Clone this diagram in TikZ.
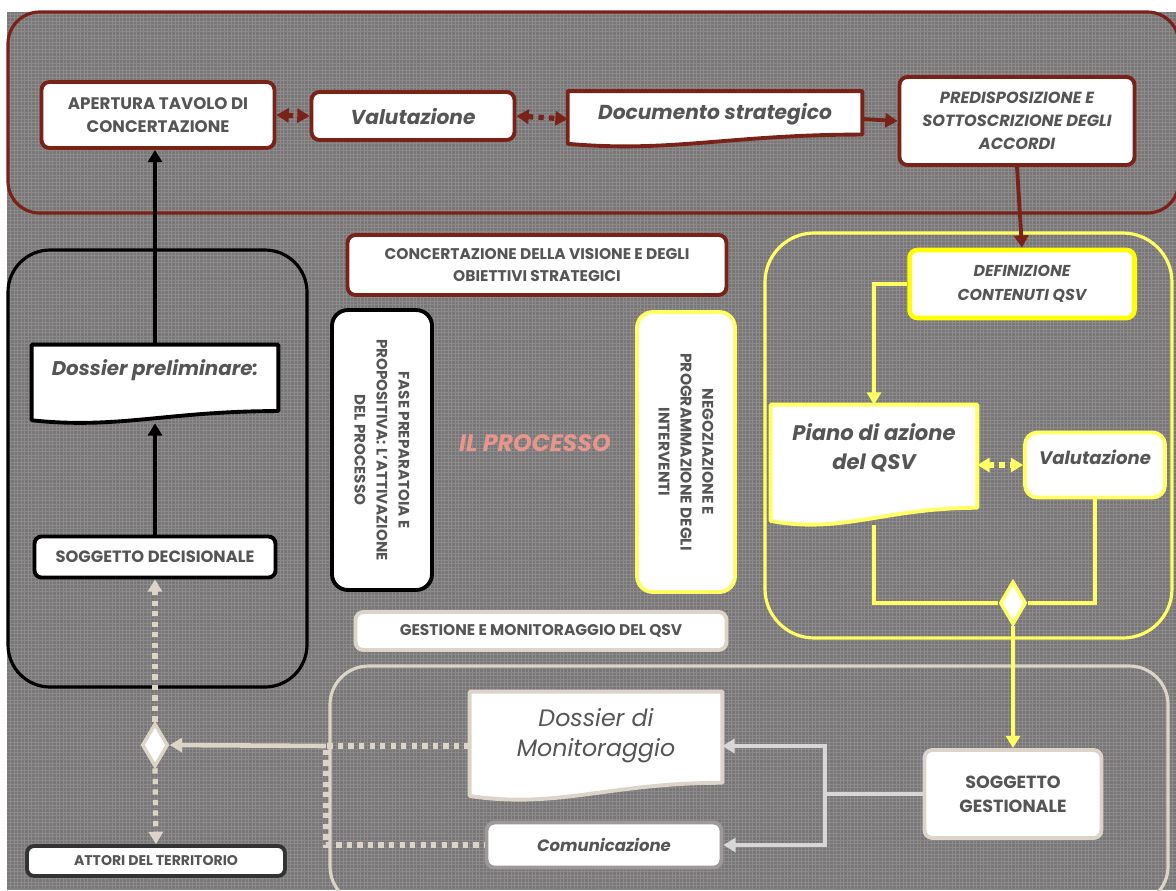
\documentclass[tikz,border=0pt]{standalone}
\usepackage{fontspec}
\setmainfont{Poppins}
\usetikzlibrary{arrows.meta,shapes.geometric,calc,backgrounds}
\definecolor{bg}{RGB}{120,118,118}
\definecolor{bgline}{RGB}{140,138,138}
\definecolor{maroon}{RGB}{122,34,24}
\definecolor{yel}{RGB}{255,255,100}
\definecolor{yelb}{RGB}{255,255,0}
\definecolor{beige}{RGB}{220,213,199}
\definecolor{lgrey}{RGB}{215,215,215}
\definecolor{cgrey}{RGB}{158,152,152}
\definecolor{salmon}{RGB}{232,150,140}
\definecolor{txt}{RGB}{85,85,85}
% document outline behind a node: node, colour, rise of the right end
\newcommand{\docoutline}[3]{%
  \begin{pgfonlayer}{background}
  \draw[line width=2.2pt, #2, fill=white, line join=round]
    (#1.north west) -- (#1.north east) -- ([yshift=#3]#1.south east)
    .. controls ($(#1.south west)!0.55!(#1.south east)+(0pt,#3)$)
    and ($(#1.south west)!0.35!(#1.south east)+(0pt,-0.5*#3)$)
    .. ([yshift=0.25*#3]#1.south west) -- cycle;
  \end{pgfonlayer}}
\begin{document}
\begin{tikzpicture}[x=0.02cm, y=-0.02cm, text=txt,
  box/.style={rectangle, rounded corners=4.5pt, fill=white, line width=2.2pt, align=center, inner sep=2pt},
  doc/.style={rectangle, align=center, inner sep=2pt},
  frame/.style={line width=1.8pt, rounded corners=#1},
  tip/.style={-{Triangle[length=7pt,width=8pt]}},
  tips/.style={{Triangle[length=7pt,width=8pt]}-{Triangle[length=7pt,width=8pt]}},
  mline/.style={maroon, line width=2.2pt, tip},
  mdot/.style={maroon, line width=3pt, dash pattern=on 3pt off 3pt, tips},
  kline/.style={black, line width=2pt, tip},
  yplain/.style={yel, line width=2.2pt},
  yline/.style={yplain, tip},
  ydot/.style={yel, line width=3pt, dash pattern=on 3pt off 3pt, tips},
  bplain/.style={beige, line width=2.6pt},
  bline/.style={bplain, tip},
  bdot/.style={beige, line width=3pt, dash pattern=on 3pt off 3pt},
  gplain/.style={lgrey, line width=2.6pt},
  gline/.style={gplain, tip},
  dmd/.style={diamond, fill=white, line width=2pt, inner sep=0pt, minimum width=0.52cm, minimum height=0.86cm}]
\useasboundingbox (0,0) rectangle (1176,890);
\begin{pgfonlayer}{background}
\fill[bg] (7,12) rectangle (1176,890);
\draw[bgline, line width=0.3pt, step=0.07cm] (7,12) grid (1176,890);
\end{pgfonlayer}

% frames
\draw[frame=18pt, maroon] (8,12) rectangle (1179,213);
\draw[frame=24pt, black] (8,250) rectangle (307,687);
\draw[frame=28pt, yel] (765,233) rectangle (1172,638);
\draw[frame=22pt, beige] (330,666) rectangle (1168,905);

% concertazione
\node[box, draw=maroon, minimum width=4.66cm, minimum height=1.32cm, font=\bfseries\fontsize{9.5}{13.5}\selectfont] (apertura) at (158,115) {APERTURA TAVOLO DI\\CONCERTAZIONE};
\node[box, draw=maroon, minimum width=4.06cm, minimum height=0.96cm, font=\bfseries\itshape\fontsize{11.5}{14}\selectfont] (valut1) at (413,116) {Valutazione};
\node[doc, minimum width=5.88cm, minimum height=1.1cm, text depth=0.3cm, font=\bfseries\itshape\fontsize{11.5}{14}\selectfont] (docstrat) at (715,119) {Documento strategico};
\docoutline{docstrat}{maroon}{7pt}
\node[box, draw=maroon, minimum width=4.7cm, minimum height=1.76cm, font=\bfseries\itshape\fontsize{9.2}{13}\selectfont] (predisp) at (1017,121) {PREDISPOSIZIONE E\\SOTTOSCRIZIONE DEGLI\\ACCORDI};
\node[box, draw=maroon, minimum width=7.58cm, minimum height=1.2cm, font=\bfseries\fontsize{8.8}{13}\selectfont] (concert) at (537,265) {CONCERTAZIONE DELLA VISIONE E DEGLI\\OBIETTIVI STRATEGICI};

% fasi
\node[box, draw=black, rotate=-90, rounded corners=9pt, minimum width=5.6cm, minimum height=2cm, font=\bfseries\fontsize{8.6}{12.5}\selectfont] (fase) at (382,450) {FASE PREPARATOIA E\\PROPOSITIVA: L'ATTIVAZIONE\\DEL PROCESSO};
\node[box, draw=yel, rotate=-90, rounded corners=9pt, minimum width=5.6cm, minimum height=1.96cm, font=\bfseries\fontsize{8.8}{12.5}\selectfont] (negoz) at (686,452) {NEGOZIAZIONE E\\PROGRAMMAZIONE DEGLI\\INTERVENTI};
\node[text=salmon, font=\bfseries\itshape\fontsize{13.5}{15}\selectfont] (ilproc) at (535,443) {IL PROCESSO};
\node[box, draw=beige, minimum width=7.42cm, minimum height=0.76cm, font=\bfseries\fontsize{8.8}{10}\selectfont] (gestione) at (541,631) {GESTIONE E MONITORAGGIO DEL QSV};

% qsv
\node[box, draw=yelb, line width=2.6pt, minimum width=4.5cm, minimum height=1.36cm, font=\bfseries\itshape\fontsize{9}{14}\selectfont] (defin) at (1022,284) {DEFINIZIONE\\CONTENUTI QSV};
\node[doc, minimum width=4.12cm, minimum height=2.4cm, text depth=0.75cm, font=\bfseries\itshape\fontsize{12}{16.5}\selectfont] (piano) at (874,465) {Piano di azione\\del QSV};
\docoutline{piano}{yel}{10pt}
\node[box, draw=yel, rounded corners=7pt, minimum width=2.8cm, minimum height=1.3cm, text depth=0.3cm, font=\bfseries\itshape\fontsize{10.3}{13}\selectfont] (valut2) at (1095,465) {Valutazione};
\node[dmd, draw=yel] (diamQ) at (1013,603) {};

% gestione
\node[box, draw=beige, minimum width=3.54cm, minimum height=1.76cm, font=\bfseries\fontsize{10}{13.6}\selectfont] (sgest) at (1013,794) {SOGGETTO\\GESTIONALE};
\node[doc, minimum width=5.04cm, minimum height=2.16cm, text depth=0.55cm, font=\itshape\fontsize{13.5}{17}\selectfont] (dosmon) at (596,746) {Dossier di\\Monitoraggio};
\docoutline{dosmon}{beige}{10pt}
\node[box, draw=cgrey, minimum width=4.7cm, minimum height=0.9cm, font=\bfseries\itshape\fontsize{9.4}{12}\selectfont] (comun) at (604,845) {Comunicazione};

% soggetto decisionale
\node[doc, minimum width=4.92cm, minimum height=1.56cm, text depth=0.65cm, font=\bfseries\itshape\fontsize{11.3}{14}\selectfont] (dospre) at (155,384) {Dossier preliminare:};
\docoutline{dospre}{black}{7pt}
\node[box, draw=black, rounded corners=4pt, minimum width=4.82cm, minimum height=0.82cm, font=\bfseries\fontsize{9.3}{11}\selectfont] (sdec) at (155,557) {SOGGETTO DECISIONALE};
\node[dmd, draw=beige] (diamA) at (155,745) {};
\node[box, draw=black!80, rounded corners=4pt, minimum width=5.16cm, minimum height=0.6cm, font=\bfseries\fontsize{8}{10}\selectfont] (attori) at (156,861) {ATTORI DEL TERRITORIO};

% connettori
\draw[mdot] (apertura.east) -- (valut1.west);
\draw[mdot] (valut1.east) -- (docstrat.west);
\draw[mline] (docstrat.east) -- (predisp.west);
\draw[mline] (predisp.south) -- (defin.north);
\draw[kline] (dospre.north) -- (dospre.north |- apertura.south);
\draw[kline] (sdec.north) -- (sdec.north |- dospre.south);
\draw[bdot, tip] (diamA.north) -- (sdec.south);
\draw[bdot, tip] (diamA.south) -- (attori.north);
\coordinate (jA) at (326,746);
\draw[bline] (jA) -- (diamA.east);
\draw[bdot] (dosmon.west) -- (jA) -- (jA |- comun.west) -- (comun.west);
\draw[yline] (defin.west) -| (piano.north);
\draw[ydot] (piano.east |- valut2.west) -- (valut2.west);
\draw[yplain] (piano.south) |- (diamQ.west);
\draw[yplain] (valut2.south) |- (diamQ.east);
\draw[yline] (diamQ.south) -- (sgest.north);
\coordinate (jG) at (825,794);
\draw[gplain] (sgest.west) -- (jG);
\draw[gline] (jG) |- (dosmon.east);
\draw[gline] (jG) |- (comun.east);
\end{tikzpicture}
\end{document}
